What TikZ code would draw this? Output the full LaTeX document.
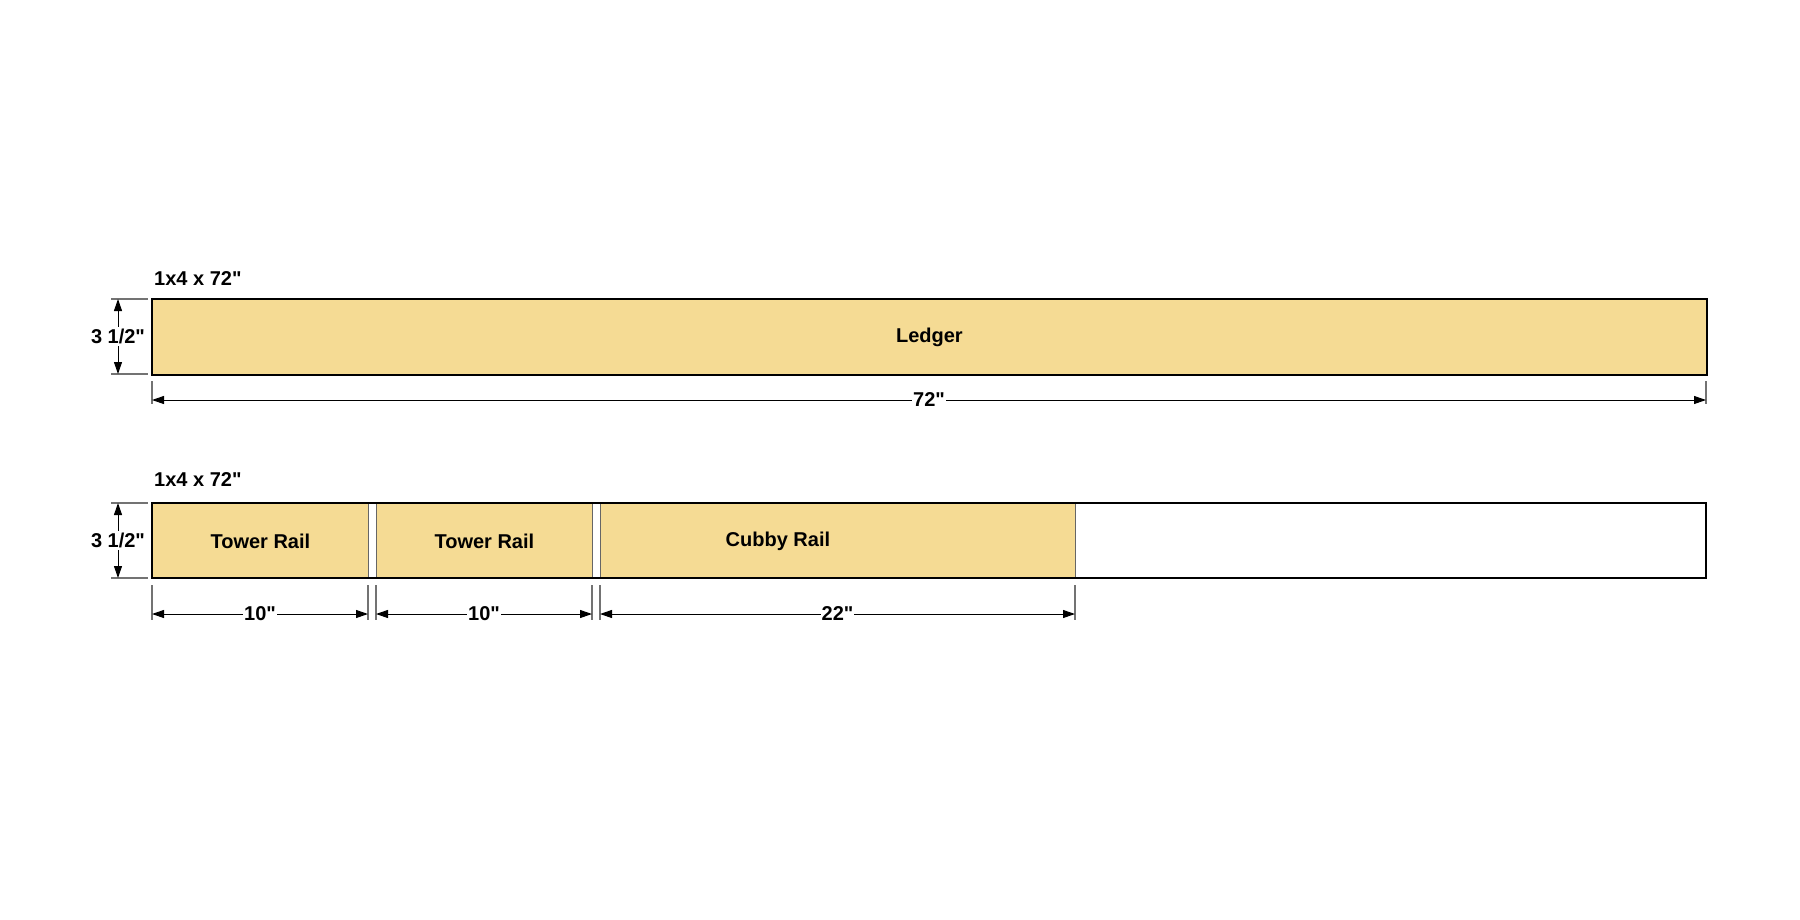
\documentclass[tikz,border=0pt]{standalone}
\usepackage{fontspec}
\newfontfamily\lsans{Liberation Sans}
\usetikzlibrary{arrows.meta}
\definecolor{wood}{HTML}{F5DB94}
\newcommand{\inch}{"}
\begin{document}
\begin{tikzpicture}[x=1pt,y=-1pt,
  board/.style={draw=black,line width=1.6pt},
  piece/.style={fill=wood,draw=black!60,line width=0.8pt},
  ext/.style={draw=black!55,line width=1.2pt},
  dim/.style={line width=1pt,{Triangle[length=12pt,width=8pt]}-{Triangle[length=12pt,width=8pt]}},
  lab/.style={font=\lsans\bfseries\fontsize{20}{24}\selectfont,inner sep=2pt},
  dl/.style={lab,fill=white,inner sep=1pt}]
\useasboundingbox (0,0) rectangle (1800,919);
% board 1
\node[piece,draw=none,minimum width=1554,minimum height=75,anchor=north west,inner sep=0] (b1) at (152,299) {};
\draw[board] (b1.north west) rectangle (b1.south east);
\node[lab] at (b1.center) {Ledger};
\node[lab,anchor=base west] (t1) at (152,285) {1x4 x 72\inch};
\draw[ext] (152,381) -- (152,404) (1706,381) -- (1706,404);
\coordinate (d1a) at (152,400); \coordinate (d1b) at (1706,400);
\draw[dim] (d1a) -- (d1b) node[dl,midway] {72\inch};
\draw[ext] (111,299) -- (148,299) (111,374) -- (148,374);
\coordinate (h1a) at (118,299); \coordinate (h1b) at (118,374);
\draw[dim] (h1a) -- (h1b) node[lab,fill=white,midway] {3 1/2\inch};
% board 2
\node[lab,anchor=base west] (t2) at (152,486) {1x4 x 72\inch};
\node[piece,minimum width=216,minimum height=75,anchor=north west,inner sep=0] (p1) at (152,503) {};
\node[piece,minimum width=216,minimum height=75,anchor=north west,inner sep=0] (p2) at (376,503) {};
\node[piece,minimum width=475,minimum height=75,anchor=north west,inner sep=0] (p3) at (600,503) {};
\node[lab] at (p1.center) {Tower Rail};
\node[lab] at (p2.center) {Tower Rail};
\node[lab] at ([xshift=-60pt]p3.center) {Cubby Rail};
\draw[board] (152,503) rectangle (1706,578);
\draw[ext] (111,503) -- (148,503) (111,578) -- (148,578);
\coordinate (h2a) at (118,503); \coordinate (h2b) at (118,578);
\draw[dim] (h2a) -- (h2b) node[lab,fill=white,midway] {3 1/2\inch};
\foreach \x in {152,368,376,592,600,1075} \draw[ext] (\x,585) -- (\x,620);
\coordinate (a1) at (152,614); \coordinate (a2) at (368,614);
\coordinate (a3) at (376,614); \coordinate (a4) at (592,614);
\coordinate (a5) at (600,614); \coordinate (a6) at (1075,614);
\draw[dim] (a1) -- (a2) node[dl,midway] {10\inch};
\draw[dim] (a3) -- (a4) node[dl,midway] {10\inch};
\draw[dim] (a5) -- (a6) node[dl,midway] {22\inch};
\end{tikzpicture}
\end{document}
